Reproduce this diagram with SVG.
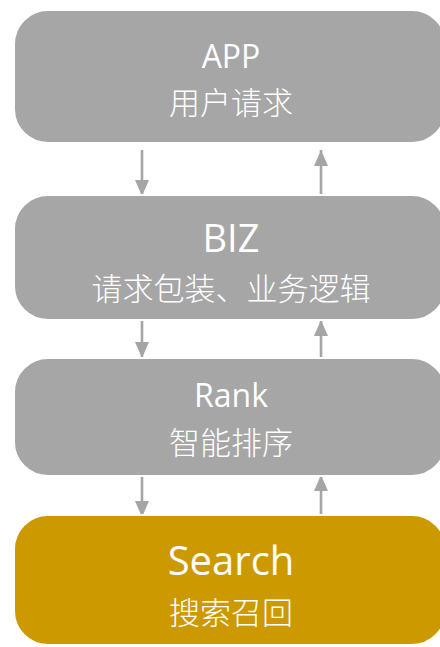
<svg xmlns="http://www.w3.org/2000/svg" width="440" height="647" viewBox="0 0 440 647">
<style>
.box{fill:#A6A6A6;stroke:#FFFFFF;stroke-width:2}
.hl{fill:#CC9900}
.t{font-family:"Open Sans","Liberation Sans","Noto Sans CJK SC",sans-serif;fill:#FFFFFF;text-anchor:middle}
.c{font-family:"Noto Sans CJK SC","Open Sans",sans-serif;fill:#FFFFFF;text-anchor:middle;font-size:31px;font-weight:300}
.ln{stroke:#A5A5A5;stroke-width:2.6;fill:none;marker-end:url(#ah)}
</style>
<defs>
<marker id="ah" markerUnits="userSpaceOnUse" markerWidth="16" markerHeight="14" viewBox="0 0 16 14" refX="16" refY="7" orient="auto">
<path d="M0,0 L16,7 L0,14 Z" fill="#A5A5A5"/>
</marker>
</defs>
<rect width="440" height="647" fill="#FFFFFF"/>
<g id="connectors">
<line class="ln" x1="142" y1="150" x2="142" y2="196"/>
<line class="ln" x1="321" y1="195" x2="321" y2="150"/>
<line class="ln" x1="142" y1="321" x2="142" y2="358"/>
<line class="ln" x1="321" y1="358" x2="321" y2="320"/>
<line class="ln" x1="142" y1="477" x2="142" y2="517"/>
<line class="ln" x1="321" y1="518" x2="321" y2="475"/>
</g>
<g id="app">
<rect class="box" x="14" y="10" width="432" height="133" rx="34"/>
<text class="t" x="231" y="68" font-size="32">APP</text>
<text class="c" x="231" y="114">用户请求</text>
</g>
<g id="biz">
<rect class="box" x="14" y="195" width="432" height="125" rx="34"/>
<text class="t" x="231" y="252" font-size="38">BIZ</text>
<text class="c" x="231" y="300">请求包装、业务逻辑</text>
</g>
<g id="rank">
<rect class="box" x="14" y="358" width="432" height="118" rx="34"/>
<text class="t" x="231" y="407" font-size="32">Rank</text>
<text class="c" x="231" y="454">智能排序</text>
</g>
<g id="search">
<rect class="box hl" x="14" y="515" width="432" height="130" rx="34"/>
<text class="t" x="231" y="575" font-size="40">Search</text>
<text class="c" x="231" y="624">搜索召回</text>
</g>
</svg>
